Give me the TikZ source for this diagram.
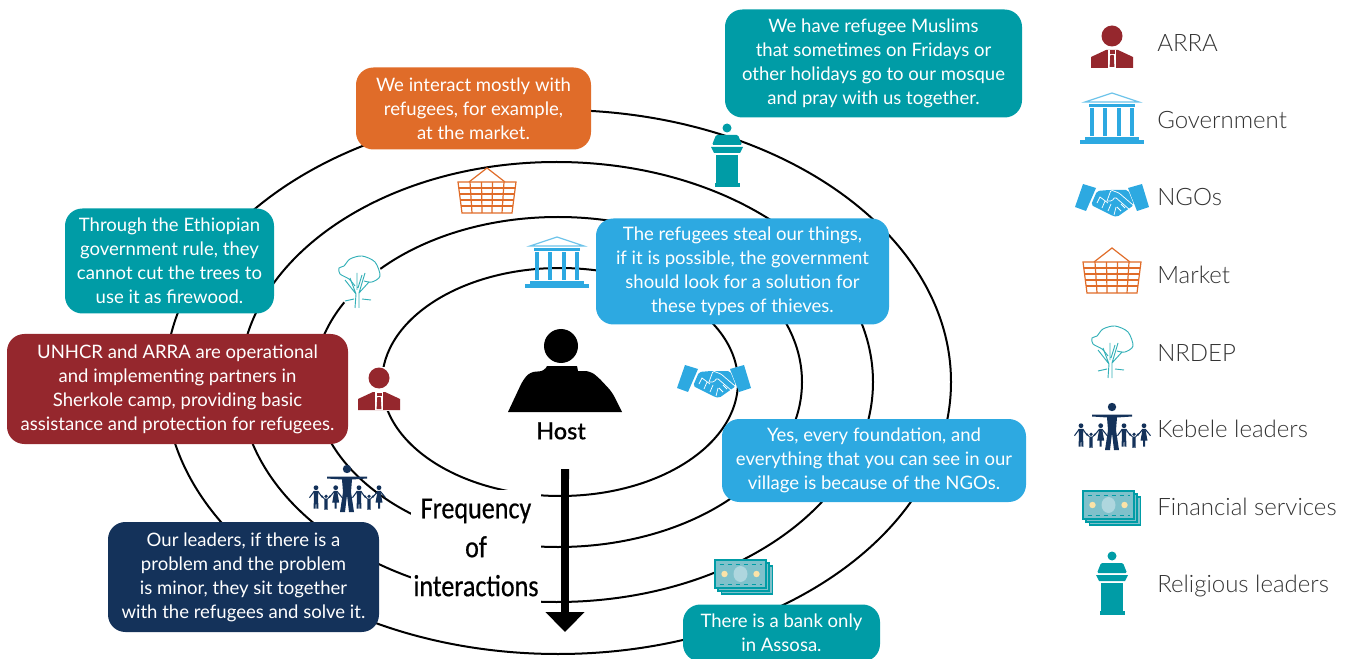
\documentclass[tikz,border=0pt]{standalone}
\usepackage{fontspec}
\setmainfont{Lato}
\newfontfamily\lightfont{Lato Light}
\newfontfamily\mediumfont[FakeBold=0.4]{Lato Medium}
\newfontfamily\narrowfont[FakeStretch=0.85, FakeBold=0.5]{Carlito}
\usetikzlibrary{arrows.meta}
\definecolor{tealc}{HTML}{009CA6}
\definecolor{bluec}{HTML}{2DA9E1}
\definecolor{orangec}{HTML}{E06C29}
\definecolor{redc}{HTML}{95272D}
\definecolor{navyc}{HTML}{14325A}
\definecolor{notec}{HTML}{7FC1CB}
\definecolor{ovalc}{HTML}{AED6DE}
\definecolor{dotc}{HTML}{FBE3A8}
\definecolor{legendc}{HTML}{333333}
\tikzset{
	ring/.style={line width=1.5pt},
	callout/.style 2 args={rounded corners=13pt, text=white, align=center, inner sep=0pt,
		minimum width=#1*0.75pt, minimum height=#2*0.75pt,
		font=\fontsize{13.9}{18}\selectfont},
	legendlabel/.style={anchor=base west, inner sep=0pt, text=legendc,
		font=\lightfont\fontsize{18}{20}\selectfont},
	arra/.pic={
		\fill[white] (-22,-22) rectangle (22,22);
		\fill[redc] (0,-11) circle (10.5);
		\fill[redc] (-21,10) -- (-6,3) -- (6,3) -- (21,10) -- (21,21) -- (-21,21) -- cycle;
		\fill[white] (-4,3) rectangle (4,21);
		\fill[redc] (-2.5,3.5) rectangle (2.5,7);
		\fill[redc] (-1.7,8) -- (1.7,8) -- (2.4,20) -- (-2.4,20) -- cycle;
	},
	government/.pic={
		\draw[bluec!70, line width=.9pt, fill=white] (-27,-18) -- (0,-27) -- (27,-18) -- cycle;
		\fill[bluec] (-23,-16) rectangle (23,-13);
		\fill[bluec] (-21.7,-12) rectangle (-18.3,16);
		\fill[bluec] (-8.7,-12) rectangle (-5.3,16);
		\fill[bluec] (5.3,-12) rectangle (8.7,16);
		\fill[bluec] (18.3,-12) rectangle (21.7,16);
		\fill[bluec] (-27,17) rectangle (27,20);
		\fill[bluec] (-32,20.5) rectangle (32,24);
	},
	handshake/.pic={
		\fill[bluec] (-29,-13) -- (-16,-9) -- (-26,14) -- (-37,10) -- cycle;
		\fill[bluec] (16,-9) -- (30,-13) -- (37,10) -- (25,14) -- cycle;
		\fill[bluec, rounded corners=1.5pt] (-15,-6) -- (-3,-7) -- (16,-7) -- (22,8) -- (5,20) -- (1,19) -- (-21,8) -- cycle;
		\draw[white, line width=.55pt, rounded corners=1pt] (-5,4) -- (-1,-7) -- (7,-4) -- (21,8);
		\draw[white, line width=.55pt, rounded corners=1pt] (-5,4) -- (0,4) -- (3,0) -- (18,13);
		\draw[white, line width=.55pt] (-15,6) -- (-12,0) -- (-4,6) (-10,11) -- (-7,4) (-4,14) -- (-1,7) (2,18) -- (4,10) (9,14) -- (5,10) (13,11) -- (9,7);
	},
	basket/.pic={
		\draw[orangec, line width=.9pt] (-18,-13) -- (0,-27) -- (18,-13);
		\draw[orangec, line width=.9pt, fill=white] (-29,-13) -- (29,-13) -- (25,18) -- (-25,18) -- cycle;
		\draw[orangec, line width=.9pt] (-28,-7) -- (28,-7) (-27,-1) -- (27,-1) (-26.5,5) -- (26.5,5) (-26,11) -- (26,11);
		\draw[orangec, line width=.9pt] (-17,-13) -- (-15,18) (-5.5,-13) -- (-5,18) (5.5,-13) -- (5,18) (17,-13) -- (15,18);
	},
	tree/.pic={
		\fill[white] (0,0) circle (25);
		\draw[tealc!80, line width=.7pt, smooth] plot coordinates {(-4,4) (-10,-3) (-19,-8) (-20,-14) (-15,-16) (-9,-23) (3,-26) (16,-20) (21,-6) (13,0) (5,-1)};
		\draw[tealc!80, line width=.7pt] (-4,26) -- (-3,12) -- (-9,-4) (0,26) -- (0,11) -- (6,-9) (-3,12) -- (-14,-2) (-2,8) -- (-2,-9) (-1,6) -- (3,-7) (0,11) -- (10,0) (-14,19) -- (-5,17) (3,17) -- (12,18);
	},
	adultfig/.pic={
		\fill[navyc] (0,0) circle (2.4);
		\fill[navyc] (-2.5,3.5) -- (2.5,3.5) -- (2,10) -- (2.5,21) -- (.5,21) -- (0,12) -- (-.5,21) -- (-2.5,21) -- (-2,10) -- cycle;
		\draw[navyc, line width=.8pt] (-6.5,10) -- (-2,3.8) -- (2,3.8) -- (6.5,10);
	},
	dressfig/.pic={
		\fill[navyc] (0,0) circle (2.4);
		\fill[navyc] (-1.5,3.5) -- (1.5,3.5) -- (3.5,15) -- (1,15) -- (1,21) -- (-1,21) -- (-1,15) -- (-3.5,15) -- cycle;
		\draw[navyc, line width=.8pt] (-6.5,10) -- (-1.5,3.8) -- (1.5,3.8) -- (6.5,10);
	},
	kidfig/.pic={
		\fill[navyc] (0,0) circle (1.8);
		\fill[navyc] (-1.5,2.5) -- (1.5,2.5) -- (1.6,13.5) -- (.3,13.5) -- (0,8) -- (-.3,13.5) -- (-1.6,13.5) -- cycle;
		\draw[navyc, line width=.7pt] (-4.5,-1) -- (-1.5,2.7) -- (1.5,2.7) -- (4.5,-1);
	},
	family/.pic={
		\fill[navyc] (0,-21) circle (4.2);
		\fill[navyc] (-20,-13.5) -- (20,-13.5) -- (20,-11.5) -- (5,-10.5) -- (4,2) -- (7,22) -- (2,22) -- (0,5) -- (-2,22) -- (-7,22) -- (-4,2) -- (-5,-10.5) -- (-20,-11.5) -- cycle;
		\pic at (-31,-2.3) {adultfig};
		\pic at (-11.3,-2.3) {dressfig};
		\pic at (12,-2.3) {adultfig};
		\pic at (32,-2.3) {dressfig};
		\pic at (-21,6.3) {kidfig};
		\pic at (22,6.3) {kidfig};
	},
	banknote/.pic={
		\draw[tealc, line width=.8pt, fill=notec] (-19,-8) rectangle (32,20);
		\draw[tealc, line width=.8pt, fill=notec] (-22.5,-11) rectangle (28.5,17);
		\fill[white] (-26,-14) rectangle (25.5,14.5);
		\draw[tealc, line width=.9pt, fill=notec] (-25.5,-14) rectangle (25.5,14);
		\fill[ovalc] (0,0) ellipse (7 and 8);
		\fill[dotc] (-16,0) circle (3.2);
		\fill[dotc] (16,0) circle (3.2);
		\draw[tealc, line width=.7pt, dash pattern=on 3pt off 3pt] (-21,-10) -- (21,-10) (-21,10) -- (21,10);
	},
	pulpit/.pic={
		\fill[tealc] (0,-28) circle (4.5);
		\fill[tealc, rounded corners=1pt] (-15,-11) -- (-11,-21) -- (11,-21) -- (15,-11) -- cycle;
		\fill[tealc] (-16,-9) -- (16,-9) -- (13,-3) -- (-13,-3) -- cycle;
		\fill[tealc] (-11,-1) rectangle (11,27);
		\fill[tealc] (-12.5,27) rectangle (12.5,31);
	},
}
\begin{document}
\begin{tikzpicture}[x=0.75pt, y=-0.75pt]
	\useasboundingbox (0,0) rectangle (1346,659);
	\clip (0,0) rectangle (1346,659);

	\draw[ring] (558,382) ellipse [x radius=393, y radius=272];
	\draw[ring] (556.5,382) ellipse [x radius=316.5, y radius=220];
	\draw[ring] (558,382) ellipse [x radius=244, y radius=165];
	\draw[ring] (560,382) ellipse [x radius=178, y radius=114];

	\node[fill=white, inner sep=0pt, minimum width=130*0.75pt, minimum height=115*0.75pt, align=center,
		font=\narrowfont\fontsize{23}{29.2}\selectfont] (freq) at (476,547.5) {Frequency\\of\\interactions};
	\coordinate (arrowtop) at (565,469);
	\coordinate (arrowtip) at (565,632);
	\draw[line width=6pt, {Butt Cap}-{Triangle[length=15pt, width=28.5pt]}] (arrowtop) -- (arrowtip);

	\fill (561,346) circle (17);
	\fill (508,412) [rounded corners=4pt] -- (523,380) -- (530,372) -- (545,371) [sharp corners] -- (547,366) -- (577,366) -- (578,371) [rounded corners=4pt] -- (590,371) -- (598,377) -- (612,392) [sharp corners] -- (622,412) -- cycle;
	\node[inner sep=0pt, font=\mediumfont\fontsize{17.6}{20}\selectfont] (host) at (561,431) {Host};

	\pic at (379,389) {arra};
	\pic at (557,264) {government};
	\pic at (714,378) {handshake};
	\pic at (487,195) {basket};
	\pic at (359,282) {tree};
	\pic at (347,490) {family};
	\pic at (740.5,574) {banknote};
	\pic at (727,156) {pulpit};

	\node[callout={297}{108}, fill=tealc] (muslims) at (873.5,63.5) {We have refugee Muslims\\that sometimes on Fridays or\\other holidays go to our mosque\\and pray with us together.};
	\node[callout={235}{82}, fill=orangec] (marketbox) at (473.5,108.5) {We interact mostly with\\refugees, for example,\\at the market.};
	\node[callout={209}{105}, fill=tealc] (treesbox) at (169.5,261) {Through the Ethiopian\\government rule, they\\cannot cut the trees to\\use it as firewood.};
	\node[callout={293}{106}, fill=bluec] (thieves) at (742.5,271.5) {The refugees steal our things,\\if it is possible, the government\\should look for a solution for\\these types of thieves.};
	\node[callout={341}{110}, fill=redc] (unhcr) at (177.5,389) {UNHCR and ARRA are operational\\and implementing partners in\\Sherkole camp, providing basic\\assistance and protection for refugees.};
	\node[callout={304}{83}, fill=bluec] (foundation) at (874,460.5) {Yes, every foundation, and\\everything that you can see in our\\village is because of the NGOs.};
	\node[callout={271}{110}, fill=navyc] (leadersbox) at (243.5,577) {Our leaders, if there is a\\problem and the problem\\is minor, they sit together\\with the refugees and solve it.};
	\node[callout={197}{57}, fill=tealc] (bank) at (781.5,633) {There is a bank only\\in Assosa.};

	\pic at (1112,47) {arra};
	\pic at (1112,120) {government};
	\pic at (1112,197) {handshake};
	\pic at (1112,275) {basket};
	\pic at (1112,352) {tree};
	\pic at (1112,428) {family};
	\pic at (1108.5,505) {banknote};
	\pic at (1112,584) {pulpit};

	\node[legendlabel] (lgarra) at (1157,52) {ARRA};
	\node[legendlabel] (lggov) at (1157,129) {Government};
	\node[legendlabel] (lgngo) at (1157,206) {NGOs};
	\node[legendlabel] (lgmarket) at (1157,284) {Market};
	\node[legendlabel] (lgnrdep) at (1157,361) {NRDEP};
	\node[legendlabel] (lgkebele) at (1157,437.5) {Kebele leaders};
	\node[legendlabel] (lgfin) at (1157,515.5) {Financial services};
	\node[legendlabel] (lgrel) at (1157,592.5) {Religious leaders};
\end{tikzpicture}
\end{document}
